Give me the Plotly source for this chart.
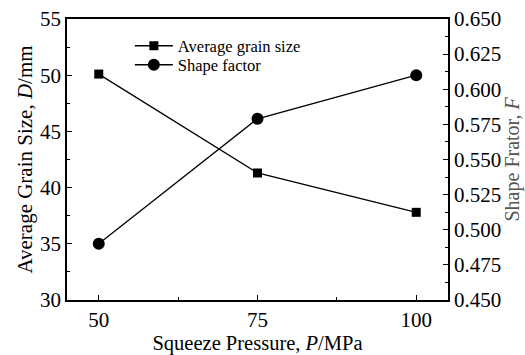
import plotly.graph_objects as go

pressure = [50, 75, 100]
grain_size = [50.1, 41.3, 37.8]
shape_factor = [0.490, 0.579, 0.610]

font = "Liberation Serif, Times New Roman, serif"

fig = go.Figure()
fig.add_trace(go.Scatter(x=pressure, y=grain_size, name="Average grain size",
                         mode="lines+markers", legend="legend",
                         line=dict(color="black", width=1.3),
                         marker=dict(symbol="square", size=9, color="black")))
fig.add_trace(go.Scatter(x=pressure, y=shape_factor, name="Shape factor",
                         mode="lines+markers", yaxis="y2", legend="legend2",
                         line=dict(color="black", width=1.3),
                         marker=dict(symbol="circle", size=12, color="black")))

axis_common = dict(showline=True, linecolor="black", linewidth=1.5, ticks="inside",
                   ticklen=5, tickcolor="black", showgrid=False, zeroline=False,
                   automargin=False,
                   tickfont=dict(family=font, size=21, color="black"))

legend_common = dict(x=0.165, xanchor="left", yanchor="middle", bgcolor="rgba(0,0,0,0)",
                     font=dict(family=font, size=16.5), itemwidth=38)

fig.update_layout(
    width=525, height=355,
    margin=dict(l=67, r=77, t=19, b=55),
    paper_bgcolor="white", plot_bgcolor="white",
    font=dict(family=font, color="black"),
    xaxis=dict(range=[45, 105], tickvals=[50, 75, 100], mirror=True,
               minor=dict(ticks="inside", ticklen=3, dtick=12.5, tick0=50, tickcolor="black"),
               title=dict(text="Squeeze Pressure, <i>P</i>/MPa", font=dict(family=font, size=20.5), standoff=2),
               **axis_common),
    yaxis=dict(range=[30, 55], dtick=5,
               minor=dict(ticks="inside", ticklen=3, dtick=2.5, tickcolor="black"),
               title=dict(text="Average Grain Size, <i>D</i>/mm", font=dict(family=font, size=21), standoff=2),
               **axis_common),
    yaxis2=dict(range=[0.45, 0.65], dtick=0.025, tickformat=".3f", overlaying="y", side="right",
                minor=dict(ticks="inside", ticklen=3, dtick=0.0125, tickcolor="black"),
                **axis_common),
    legend=dict(y=(300 - 46) / 281, **legend_common),
    legend2=dict(y=(300 - 65) / 281, **legend_common),
    showlegend=True,
    annotations=[dict(text="Shape Frator, <i>F</i>", xref="paper", yref="paper",
                      x=1, y=0.5, xshift=64, xanchor="center", yanchor="middle",
                      textangle=-90, showarrow=False,
                      font=dict(family=font, size=20, color="#555"))],
)

fig.write_html("out.html", config={"displayModeBar": False},
               post_script="document.body.style.margin='0';")
